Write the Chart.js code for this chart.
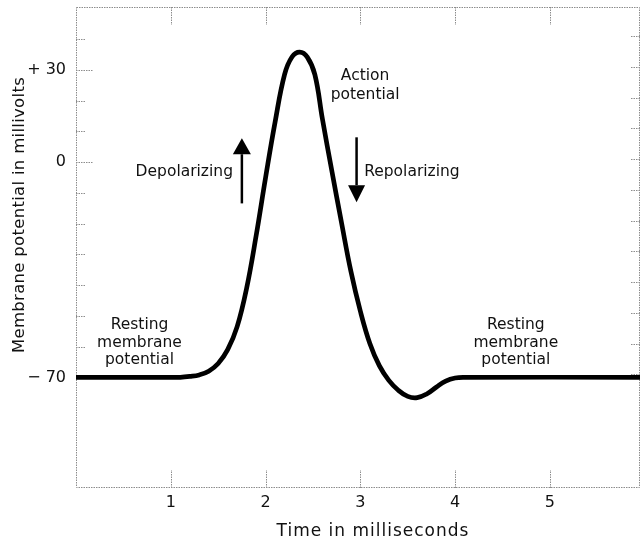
<!DOCTYPE html>
<html><head><meta charset="utf-8">
<script src="https://cdn.jsdelivr.net/npm/chart.js@4"></script>
<style>html,body{margin:0;padding:0;background:#fff;}#wrap{width:640px;height:545px;}</style>
</head><body><div id="wrap"><canvas id="c" width="640" height="545"></canvas></div>
<script>
// ---- data ----
const timeMs = [0, 1.0, 1.1, 1.2, 1.3, 1.4, 1.5, 1.6, 1.7, 1.8, 1.9, 2.0, 2.1, 2.2, 2.28, 2.36, 2.44, 2.52, 2.6, 2.7, 2.8, 2.9, 3.0, 3.1, 3.2, 3.3, 3.4, 3.5, 3.6, 3.7, 3.8, 3.9, 4.0, 4.1, 5.95];
const potentialMv = [-70, -70, -70, -69.7, -69.2, -68, -65.5, -61, -53.5, -41, -24, -5, 13, 28.5, 34.3, 35.8, 34.2, 28.5, 14, -3, -19.5, -35.5, -48.5, -59, -66.2, -71, -74.2, -76.2, -76.6, -75.4, -73.2, -71.2, -70.2, -70, -70];
const xTickValues = [1, 2, 3, 4, 5];
const yTickValues = [30, 0, -70];
const yTickLabels = ['+ 30', '0', '\u2212 70'];
const yMinorTicks = [40, 30, 20, 10, 0, -10, -20, -30, -40, -50, -60, -70];
const xTitle = 'Time in milliseconds';
const yTitle = 'Membrane potential in millivolts';
const restingLabel = ['Resting', 'membrane', 'potential'];
const actionLabel = ['Action', 'potential'];
const depolLabel = 'Depolarizing';
const repolLabel = 'Repolarizing';

const FONT = "'DejaVu Sans', 'Liberation Sans', sans-serif";

function drawArrow(ctx, x, y0, y1, headLen, headW) {
  const dir = y1 < y0 ? -1 : 1;
  const baseY = y1 - dir * headLen;
  ctx.save();
  ctx.strokeStyle = '#000'; ctx.fillStyle = '#000';
  ctx.lineWidth = 2.5;
  ctx.beginPath(); ctx.moveTo(x, y0); ctx.lineTo(x, baseY); ctx.stroke();
  ctx.beginPath(); ctx.moveTo(x, y1); ctx.lineTo(x - headW / 2, baseY); ctx.lineTo(x + headW / 2, baseY); ctx.closePath(); ctx.fill();
  ctx.restore();
}

const framePlugin = {
  id: 'frame',
  beforeDatasetsDraw(chart) {
    const {ctx, chartArea: a, scales: {x, y}} = chart;
    ctx.save();
    ctx.strokeStyle = '#8c8c8c';
    ctx.lineWidth = 1;
    ctx.setLineDash([1.5, 1]);
    ctx.strokeRect(a.left + 0.5, a.top + 0.5, a.right - a.left - 1, a.bottom - a.top - 1);
    ctx.beginPath();
    yMinorTicks.forEach(v => {
      const py = Math.round(y.getPixelForValue(v)) + 0.5;
      const len = yTickValues.includes(v) ? 17 : 9;
      ctx.moveTo(a.left, py); ctx.lineTo(a.left + len, py);
      ctx.moveTo(a.right, py - 3); ctx.lineTo(a.right - 10, py - 3);
    });
    xTickValues.forEach(v => {
      const px = Math.round(x.getPixelForValue(v)) + 0.5;
      ctx.moveTo(px, a.top); ctx.lineTo(px, a.top + 18);
      ctx.moveTo(px, a.bottom); ctx.lineTo(px, a.bottom - 18);
    });
    ctx.stroke();
    ctx.restore();
  },
  afterDatasetsDraw(chart) {
    const {ctx, chartArea: a, scales: {x, y}} = chart;
    ctx.save();
    ctx.fillStyle = '#111';
    ctx.textBaseline = 'middle';
    ctx.font = '15.5px ' + FONT;
    const lineH = 17.5;
    ctx.textAlign = 'center';
    let px = x.getPixelForValue(0.67), py = y.getPixelForValue(-53.1);
    restingLabel.forEach((t, i) => ctx.fillText(t, px, py + i * lineH));
    px = x.getPixelForValue(4.64);
    restingLabel.forEach((t, i) => ctx.fillText(t, px, py + i * lineH));
    px = x.getPixelForValue(3.05); py = y.getPixelForValue(28);
    actionLabel.forEach((t, i) => ctx.fillText(t, px, py + i * 19));
    ctx.textAlign = 'right';
    ctx.fillText(depolLabel, x.getPixelForValue(1.656), y.getPixelForValue(-3.3));
    ctx.textAlign = 'left';
    ctx.fillText(repolLabel, x.getPixelForValue(3.04), y.getPixelForValue(-3.3));
    drawArrow(ctx, x.getPixelForValue(1.75), y.getPixelForValue(-13.4), y.getPixelForValue(7.8), 16, 18);
    drawArrow(ctx, x.getPixelForValue(2.96), y.getPixelForValue(8.1), y.getPixelForValue(-13), 17, 17);
    ctx.font = '17px ' + FONT;
    ctx.letterSpacing = '1px';
    ctx.textAlign = 'center';
    ctx.fillText(xTitle, a.left + 297, a.bottom + 44);
    ctx.translate(20, a.top + 208);
    ctx.rotate(-Math.PI / 2);
    ctx.letterSpacing = '0.3px';
    ctx.font = '16.5px ' + FONT;
    ctx.fillText(yTitle, 0, 0);
    ctx.restore();
  }
};

new Chart(document.getElementById('c'), {
  type: 'line',
  data: {
    datasets: [{
      data: timeMs.map((t, i) => ({x: t, y: potentialMv[i]})),
      borderColor: '#000',
      borderWidth: 4.7,
      pointRadius: 0,
      tension: 0.4,
      fill: false
    }]
  },
  options: {
    responsive: false,
    animation: false,
    devicePixelRatio: 1,
    layout: {padding: {top: 7, right: 0, left: 0, bottom: 0}},
    plugins: {legend: {display: false}, tooltip: {enabled: false}},
    scales: {
      x: {
        type: 'linear', min: 0, max: 5.95,
        afterBuildTicks: s => { s.ticks = xTickValues.map(v => ({value: v})); },
        ticks: {font: {family: FONT, size: 16}, color: '#111', padding: 5, maxRotation: 0, autoSkip: false},
        grid: {display: false, drawTicks: false},
        border: {display: false},
        afterFit: s => { s.height = 57; s.paddingLeft = 0; s.paddingRight = 0; }
      },
      y: {
        type: 'linear', min: -106, max: 50.5,
        afterBuildTicks: s => { s.ticks = yTickValues.map(v => ({value: v})); },
        ticks: {callback: (v, i) => yTickLabels[i], font: {family: FONT, size: 16}, color: '#111', padding: 10, autoSkip: false},
        grid: {display: false, drawTicks: false},
        border: {display: false},
        afterFit: s => { s.width = 76; s.paddingTop = 0; s.paddingBottom = 0; }
      }
    }
  },
  plugins: [framePlugin]
});
</script>
</body></html>
